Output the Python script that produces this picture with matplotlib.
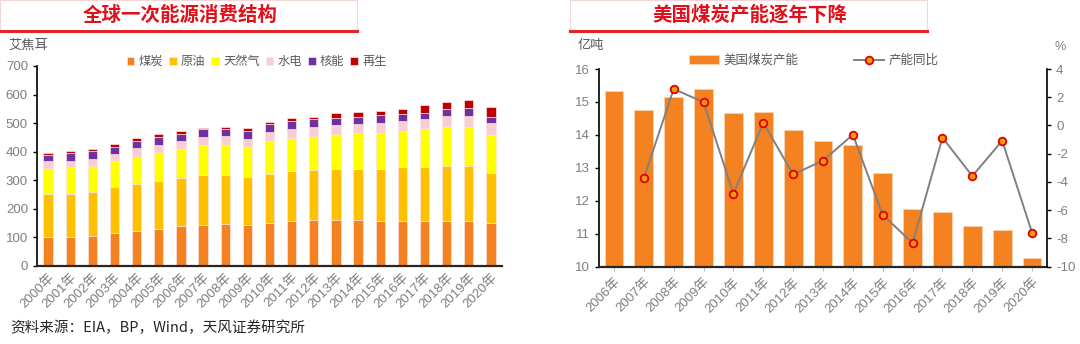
import matplotlib.pyplot as plt
import numpy as np
from matplotlib.patches import Rectangle
from matplotlib.lines import Line2D

plt.rcParams['font.family'] = ['Liberation Sans', 'Noto Sans CJK SC']
plt.rcParams['axes.unicode_minus'] = False

# ---- data: global primary energy consumption (EJ)
years_l = [f"{y}年" for y in range(2000, 2021)]
coal = [100, 100, 105, 114, 121, 129, 139, 143, 146, 143, 151, 156, 160, 162, 162, 158, 156, 156, 158, 156, 150]
oil = [151, 153, 155, 161, 167, 169, 168, 174, 171, 169, 172, 177, 177, 177, 179, 183, 189, 191, 192, 194, 175]
gas = [88, 92, 91, 92, 94, 97, 101, 106, 108, 105, 114, 115, 119, 121, 123, 125, 127, 131, 137, 137, 135]
hydro = [27, 23, 24, 26, 31, 30, 28, 28, 30, 29, 33, 31, 32, 35, 33, 34, 34, 37, 39, 39, 39]
nuclear = [24, 29, 29, 25, 24, 28, 27, 27, 26, 27, 27, 27, 25, 24, 26, 27, 25, 21, 24, 28, 23]
renew = [7, 7, 7, 9, 11, 9, 11, 6, 7, 10, 8, 11, 10, 16, 17, 15, 19, 26, 25, 26, 34]
energy_names = ['煤炭', '原油', '天然气', '水电', '核能', '再生']
energy_colors = ['#F58220', '#FFC000', '#FFFF00', '#F7CED3', '#7030A0', '#C00000']

# ---- data: US coal capacity
years_r = [f"{y}年" for y in range(2006, 2021)]
capacity = [15.33, 14.77, 15.14, 15.38, 14.66, 14.68, 14.15, 13.81, 13.69, 12.84, 11.76, 11.67, 11.24, 11.12, 10.27]
yoy = [np.nan, -3.74, 2.58, 1.66, -4.83, 0.20, -3.46, -2.49, -0.65, -6.34, -8.32, -0.86, -3.58, -1.08, -7.59]

GRAY = '#7F7F7F'
RED = '#E0101A'

fig = plt.figure(figsize=(10.8, 3.44), dpi=100)
W, H = 1080, 344


def px(x, y):
    return x / W, 1 - y / H


def title_box(x0, x1, text, cx):
    fig.patches.append(Rectangle(px(x0, 31), (x1 - x0) / W, 31 / H, transform=fig.transFigure,
                                 facecolor='white', edgecolor='#F6D5D5', lw=0.8, zorder=0))
    fig.add_artist(Line2D([x0 / W, x1 / W], [1 - 31 / H] * 2, color='#E3262B', lw=2.2))
    fig.text(*px(cx, 15), text, color=RED, fontsize=14, fontweight='bold',
             ha='center', va='center', family=['Noto Sans CJK SC'])


def style_axis(ax):
    for s in ['top', 'right']:
        ax.spines[s].set_visible(False)
    ax.spines['left'].set_color('black')
    ax.spines['left'].set_linewidth(1.2)
    ax.spines['bottom'].set_color('#262626')
    ax.spines['bottom'].set_linewidth(1.6)
    ax.tick_params(axis='y', colors=GRAY, labelsize=9.5, length=3, width=1, color='black')
    ax.tick_params(axis='x', colors=GRAY, labelsize=9.5, length=3, width=0.8, color='#BFBFBF')


# ---------------- left chart
title_box(0, 357, '全球一次能源消费结构', 180)
ax1 = fig.add_axes([37 / W, 1 - 266 / H, 465 / W, 200 / H])
x1 = np.arange(len(years_l))
bottom = np.zeros(len(years_l))
for vals, name, c in zip([coal, oil, gas, hydro, nuclear, renew], energy_names, energy_colors):
    ax1.bar(x1, vals, 0.42, bottom=bottom, color=c, edgecolor='#FBE3E3', linewidth=0.5, label=name)
    bottom += np.array(vals)
ax1.set_ylim(0, 700)
ax1.set_yticks(range(0, 701, 100))
ax1.set_xlim(-0.5, len(years_l) - 0.5)
ax1.set_xticks(x1)
ax1.set_xticklabels(years_l, rotation=45, ha='right', rotation_mode='anchor')
style_axis(ax1)
ax1.tick_params(axis='x', length=0)
fig.text(*px(8, 46), '艾焦耳', color='#595959', fontsize=9.5, va='center')
ax1.legend(loc='upper left', bbox_to_anchor=(0.17, 1.105), ncol=6, frameon=False,
           fontsize=8.8, handlelength=0.6, handleheight=0.6, handletextpad=0.35,
           columnspacing=0.5, labelcolor='#595959')

fig.text(*px(10, 328), '资料来源：EIA，BP，Wind，天风证券研究所', color='#262626', fontsize=10.5,
         va='center', family=['Noto Sans CJK SC'])

# ---------------- right chart
title_box(570, 927, '美国煤炭产能逐年下降', 750)
ax2 = fig.add_axes([599 / W, 1 - 266.7 / H, 448 / W, 197.7 / H])
x2 = np.arange(len(years_r))
ax2.bar(x2, capacity, 0.63, color='#F58220', edgecolor='#FAD3B0', linewidth=0.6, label='美国煤炭产能')
ax2.set_ylim(10, 16)
ax2.set_xlim(-0.5, len(years_r) - 0.5)
ax2.set_xticks(x2)
ax2.set_xticklabels(years_r, rotation=45, ha='right', rotation_mode='anchor')
style_axis(ax2)

ax3 = ax2.twinx()
ax3.plot(x2, yoy, color='#808080', lw=1.4, marker='o', ms=5.5, mfc='#F59A10', mec='#E00000',
         mew=1.3, label='产能同比')
ax3.set_ylim(-10, 4)
ax3.set_yticks(range(-10, 5, 2))
for s in ['top', 'left', 'bottom']:
    ax3.spines[s].set_visible(False)
ax3.spines['right'].set_color('black')
ax3.spines['right'].set_linewidth(1.2)
ax3.tick_params(axis='y', colors=GRAY, labelsize=9.5, length=3, width=1, color='black')

fig.text(*px(578, 46), '亿吨', color='#595959', fontsize=9.5, va='center')
fig.text(*px(1060, 47), '%', color=GRAY, fontsize=9, va='center', ha='center')

h1, l1 = ax2.get_legend_handles_labels()
h2, l2 = ax3.get_legend_handles_labels()
ax2.legend(h1 + h2, l1 + l2, loc='upper left', bbox_to_anchor=(0.175, 1.13), ncol=2, frameon=False,
           fontsize=9, handlelength=2.4, handletextpad=0.4, columnspacing=4.4, labelcolor='#595959')

fig.savefig('out.png', dpi=100, facecolor='white')
